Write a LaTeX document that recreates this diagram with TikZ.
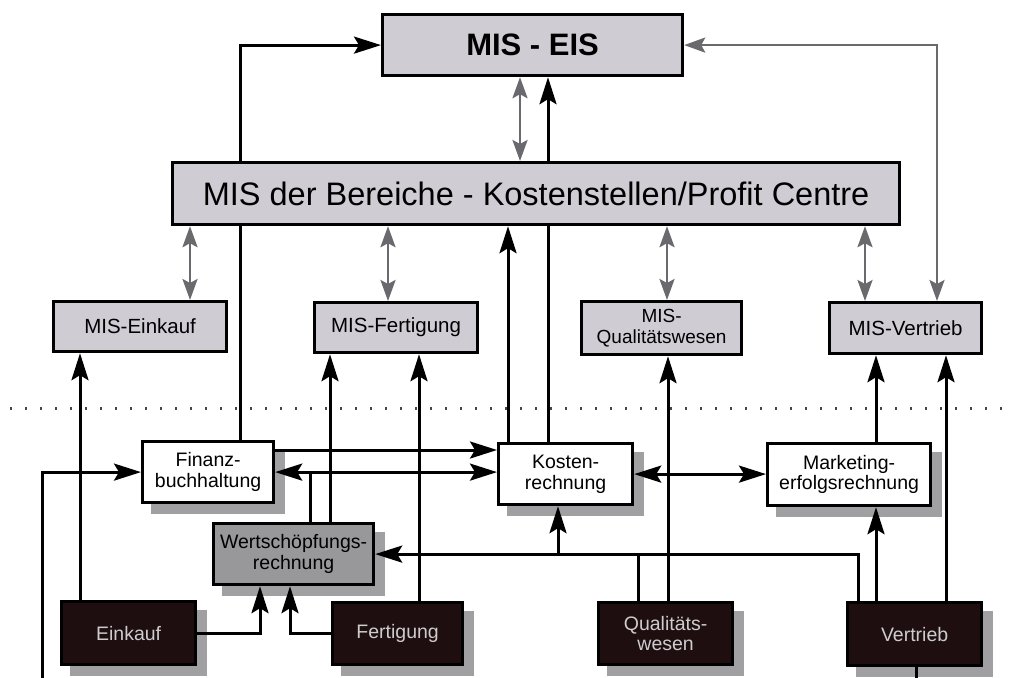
\documentclass[tikz,border=0pt]{standalone}
\usepackage{fontspec}
\setmainfont{Liberation Sans}
\usetikzlibrary{arrows.meta,backgrounds}
\definecolor{misfill}{RGB}{208,204,212}
\definecolor{shadowgray}{RGB}{160,160,162}
\definecolor{wertfill}{RGB}{152,152,154}
\definecolor{darkfill}{RGB}{30,14,16}
\definecolor{lighttext}{RGB}{205,205,205}
\definecolor{arrowgray}{RGB}{105,105,110}
\definecolor{dotgray}{RGB}{70,70,70}
\pgfdeclarelayer{shade}
\pgfsetlayers{shade,background,main}
\begin{document}
\begin{tikzpicture}[x=1pt,y=-1pt,
  lbox/.style={draw=black,line width=3.2pt,rectangle,anchor=north west,inner sep=0pt,
    align=center,fill=white,font=\fontsize{19.5}{20.5}\selectfont},
  misbox/.style={lbox,fill=misfill,font=\fontsize{20.5}{21}\selectfont},
  darkbox/.style={lbox,fill=darkfill,text=lighttext},
  blkline/.style={draw=black,line width=3pt},
  blk/.style={blkline,-{Stealth[length=27pt,width=17pt,inset=5pt]}},
  blkboth/.style={blkline,{Stealth[length=27pt,width=17pt,inset=5pt]}-{Stealth[length=27pt,width=17pt,inset=5pt]}},
  gry/.style={draw=arrowgray,line width=2.6pt,{Stealth[length=21pt,width=15pt,inset=4pt]}-{Stealth[length=21pt,width=15pt,inset=4pt]}},
  dotline/.style={draw=dotgray,line width=3pt,dash pattern=on 2pt off 13pt},
  shadowfill/.style={fill=shadowgray}
]
\useasboundingbox (0,0) rectangle (1016,677);

% top level
\node[lbox,fill=misfill,minimum width=300pt,minimum height=61pt,
  font=\bfseries\fontsize{31}{34}\selectfont] (eis) at (381,13) {MIS - EIS};
\node[lbox,fill=misfill,minimum width=727pt,minimum height=62pt,
  font=\fontsize{32.5}{36}\selectfont] (ber) at (171,161) {MIS der Bereiche - Kostenstellen/Profit Centre};

% MIS per area
\node[misbox,minimum width=173pt,minimum height=50pt] (mein) at (52,300) {MIS-Einkauf};
\node[misbox,minimum width=163pt,minimum height=50pt] (mfert) at (313,301) {MIS-Fertigung};
\node[misbox,minimum width=160pt,minimum height=53pt,font=\fontsize{19}{21}\selectfont] (mqual) at (580,300) {MIS-\\Qualitätswesen};
\node[misbox,minimum width=152pt,minimum height=51pt] (mvert) at (828,301) {MIS-Vertrieb};

% accounting systems
\node[lbox,minimum width=131pt,minimum height=61pt] (fibu) at (141,440) {Finanz-\\buchhaltung};
\node[lbox,fill=wertfill,minimum width=160pt,minimum height=61pt] (wert) at (212,522) {Wertschöpfungs-\\rechnung};
\node[lbox,minimum width=134pt,minimum height=61pt] (kost) at (497,442) {Kosten-\\rechnung};
\node[lbox,minimum width=163pt,minimum height=62pt] (mark) at (766,442) {Marketing-\\erfolgsrechnung};

% operational areas
\node[darkbox,minimum width=134pt,minimum height=63pt] (eink) at (60,600) {Einkauf};
\node[darkbox,minimum width=130pt,minimum height=62pt] (fert) at (331,601) {Fertigung};
\node[darkbox,minimum width=134pt,minimum height=62pt] (qual) at (597,601) {Qualitäts-\\wesen};
\node[darkbox,minimum width=134pt,minimum height=63pt] (vert) at (846,601) {Vertrieb};

% drop shadows of the lower boxes
\begin{pgfonlayer}{shade}
\foreach \n in {fibu,wert,kost,mark,eink,fert,qual,vert}{
  \fill[shadowfill] ([shift={(10,10)}]\n.north west) rectangle ([shift={(10,10)}]\n.south east);
}
\end{pgfonlayer}

% connection points
\coordinate (f1) at ([xshift=99pt]fibu.north west);
\coordinate (fe1) at ([yshift=-10pt]fibu.north east);
\coordinate (fl) at ([xshift=-99pt]fibu.west);
\coordinate (k1) at ([xshift=11pt]kost.north west);
\coordinate (k2) at ([xshift=51pt]kost.north west);
\coordinate (ks) at ([xshift=61pt]kost.south west);
\coordinate (e1) at ([xshift=20pt]eink.north west);
\coordinate (w1) at ([xshift=98pt]wert.north west);
\coordinate (w2) at ([xshift=118pt]wert.north west);
\coordinate (ws1) at ([xshift=48pt]wert.south west);
\coordinate (ws2) at ([xshift=78pt]wert.south west);
\coordinate (r1) at ([xshift=88pt]fert.north west);
\coordinate (q1) at ([xshift=41pt]qual.north west);
\coordinate (q2) at ([xshift=71pt]qual.north west);
\coordinate (v1) at ([xshift=12pt]vert.north west);
\coordinate (v2) at ([xshift=30pt]vert.north west);
\coordinate (v3) at ([xshift=100pt]vert.north west);
\coordinate (v4) at ([xshift=70pt]vert.south west);
\coordinate (m1) at ([xshift=110pt]mark.north west);
\coordinate (low) at (0,700);
\coordinate (b1) at ([xshift=19pt]ber.south west);
\coordinate (b2) at ([xshift=217pt]ber.south west);
\coordinate (b3) at ([xshift=496pt]ber.south west);
\coordinate (b4) at ([xshift=694pt]ber.south west);
\coordinate (g1) at ([xshift=139pt]eis.south west);
\coordinate (g2) at ([xshift=109pt]mvert.north west);

\begin{pgfonlayer}{background}
\clip (0,0) rectangle (1016,677);
% separation between information and operational level
\draw[dotline] (10,408) -- (1010,408);

% reporting upwards
\draw[blk] (f1) |- (eis.west);
\draw[blk] (k1) -- (k1 |- ber.south);
\draw[blk] (k2) -- (k2 |- eis.south);
\draw[blk] (e1) -- (e1 |- mein.south);
\draw[blk] (w2) -- (w2 |- mfert.south);
\draw[blk] (r1) -- (r1 |- mfert.south);
\draw[blk] (q2) -- (q2 |- mqual.south);
\draw[blk] (v2) -- (v2 |- mark.south);
\draw[blk] (m1) -- (m1 |- mvert.south);
\draw[blk] (v3) -- (v3 |- mvert.south);

% flows between the accounting systems
\draw[blk] (fe1) -- (fe1 -| kost.west);
\draw[blk] (w1) |- (fibu.east);
\draw[blk] (w1 |- fibu.east) -- (fibu.east -| kost.west);
\draw[blkboth] (kost.east) -- (kost.east -| mark.west);
\draw[blk] (eink.east) -| (ws1);
\draw[blk] (fert.west) -| (ws2);
\draw[blk] (q1) |- (wert.east);
\draw[blkline] (v1) |- (q1 |- wert.east);
\draw[blk] (ks |- wert.east) -- (ks);
\draw[blk] (v4) -- (v4 |- low) -| (fl) -- (fibu.west);

% exchange between the MIS levels
\draw[gry] (b1) -- (b1 |- mein.north);
\draw[gry] (b2) -- (b2 |- mfert.north);
\draw[gry] (b3) -- (b3 |- mqual.north);
\draw[gry] (b4) -- (b4 |- mvert.north);
\draw[gry] (g1) -- (g1 |- ber.north);
\draw[gry] (eis.east) -| (g2);
\end{pgfonlayer}
\end{tikzpicture}
\end{document}
